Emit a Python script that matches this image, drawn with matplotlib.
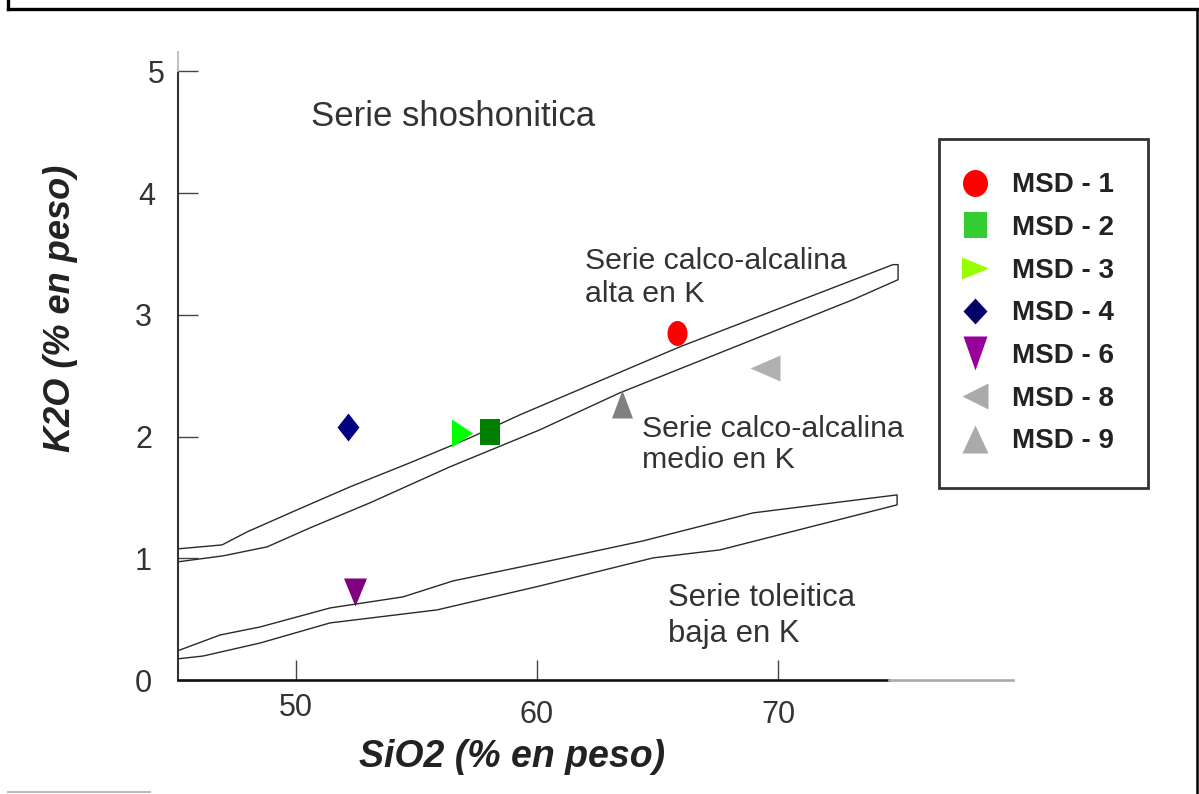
import numpy as np
import matplotlib
matplotlib.use("Agg")
import matplotlib.pyplot as plt
from matplotlib.lines import Line2D

plt.rcParams['font.family'] = ['Liberation Sans', 'DejaVu Sans']

# ---- Boundary curves (SiO2, K2O) ----
# shoshonitic / high-K calc-alkaline boundary band
hk_top_x = [45.06, 46.93, 47.97, 50.04, 52.24, 54.73, 57.22, 59.29, 65.93, 74.77, 74.98]
hk_top_y = [1.077, 1.110, 1.217, 1.398, 1.587, 1.785, 1.990, 2.179, 2.738, 3.413, 3.413]
hk_bot_x = [45.06, 46.97, 48.80, 50.58, 53.07, 56.39, 60.12, 63.44, 73.11, 74.98]
hk_bot_y = [0.970, 1.020, 1.094, 1.250, 1.456, 1.752, 2.056, 2.360, 3.125, 3.289]

# medium-K calc-alkaline / low-K tholeiitic boundary band
lk_top_x = [45.06, 46.85, 48.51, 51.41, 54.44, 56.51, 60.12, 64.40, 68.96, 74.94]
lk_top_y = [0.238, 0.370, 0.436, 0.592, 0.683, 0.814, 0.962, 1.143, 1.373, 1.521]
lk_bot_x = [45.06, 46.14, 48.51, 51.41, 55.85, 60.12, 64.81, 67.59, 74.94]
lk_bot_y = [0.173, 0.197, 0.304, 0.469, 0.576, 0.773, 1.003, 1.069, 1.439]

# ---- Samples ----
samples = ['MSD - 1', 'MSD - 2', 'MSD - 3', 'MSD - 4', 'MSD - 6', 'MSD - 8', 'MSD - 9']
sio2 = [65.80, 58.05, 56.87, 52.16, 52.43, 69.46, 63.51]
k2o = [2.85, 2.04, 2.03, 2.08, 0.72, 2.56, 2.27]
point_colors = ['#ff0000', '#007f00', '#00ff00', '#000080', '#800080', '#b0b0b0', '#808080']
legend_colors = ['#ff0000', '#33cc33', '#99ff00', '#000066', '#990099', '#aaaaaa', '#aaaaaa']
shapes = ['circle', 'square', 'right', 'diamond', 'down', 'left', 'up']
# marker footprints (width, height) in pixels
point_sizes = [(20, 25), (20, 26), (21, 28), (22, 28), (23, 28), (30, 26), (21, 28)]
legend_sizes = [(25, 27), (23, 26), (27, 22), (24, 26), (24, 34), (26, 26), (26, 28)]

xticks = [50, 60, 70]
yticks = [0, 1, 2, 3, 4, 5]

TEXT = '#333333'


def marker_verts(kind, w, h):
    a, b = w / 2.0, h / 2.0
    if kind == 'circle':
        t = np.linspace(0, 2 * np.pi, 60)
        return list(zip(a * np.cos(t), b * np.sin(t)))
    if kind == 'square':
        return [(-a, -b), (a, -b), (a, b), (-a, b), (-a, -b)]
    if kind == 'diamond':
        return [(0, -b), (a, 0), (0, b), (-a, 0), (0, -b)]
    if kind == 'right':
        return [(-a, -b), (a, 0), (-a, b), (-a, -b)]
    if kind == 'left':
        return [(a, -b), (-a, 0), (a, b), (a, -b)]
    if kind == 'up':
        return [(-a, -b), (a, -b), (0, b), (-a, -b)]
    if kind == 'down':
        return [(-a, b), (a, b), (0, -b), (-a, b)]


fig = plt.figure(figsize=(11.99, 7.94), dpi=100)
W, H = 1199.0, 794.0
ax = fig.add_axes([178 / W, 1 - 680 / H, (1013 - 178) / W, (680 - 52) / H])
xmin, xmax = 45.10, 79.75
ymin, ymax = 0.0, 5.16
ax.set_xlim(xmin, xmax)
ax.set_ylim(ymin, ymax)

# boundary bands drawn as outlined strips
band_x = hk_top_x + hk_bot_x[::-1]
band_y = hk_top_y + hk_bot_y[::-1]
ax.plot(band_x, band_y, color='#2a2a2a', lw=1.0, zorder=2)
band_x = lk_top_x + [lk_bot_x[-1]] + lk_bot_x[::-1]
band_y = lk_top_y + [lk_bot_y[-1]] + lk_bot_y[::-1]
ax.plot(band_x, band_y, color='#2a2a2a', lw=1.0, zorder=2)

# sample points
for xi, yi, c, s, (w, h) in zip(sio2, k2o, point_colors, shapes, point_sizes):
    ax.plot([xi], [yi], ls='none', marker=marker_verts(s, w, h),
            markersize=max(w, h) * 0.72, color=c, markeredgewidth=0, zorder=4)

# field labels (multi-line labels anchored on the baseline of their last line)
ax.text(50.62, 4.548, 'Serie shoshonitica', fontsize=25, color=TEXT, va='baseline')
ax.text(61.99, 3.109, 'Serie calco-alcalina\nalta en K', fontsize=21.8,
        color=TEXT, va='baseline', linespacing=1.2)
ax.text(64.36, 1.743, 'Serie calco-alcalina\nmedio en K', fontsize=21.8,
        color=TEXT, va='baseline', linespacing=1.15)
ax.text(65.44, 0.3125, 'Serie toleitica\nbaja en K', fontsize=22.3,
        color=TEXT, va='baseline', linespacing=1.25)

# axes styling
for side in ('top', 'right'):
    ax.spines[side].set_visible(False)
ax.spines['left'].set_color('#333333')
ax.spines['left'].set_linewidth(1.5)
ax.spines['left'].set_bounds(0, 5)
ax.spines['bottom'].set_color('#111111')
ax.spines['bottom'].set_linewidth(1.9)
ax.spines['bottom'].set_bounds(xmin, 74.6)
ax.plot([xmin, xmin], [5, ymax], color='#bbbbbb', lw=1.3, clip_on=False, zorder=3)
ax.plot([74.6, xmax], [0, 0], color='#aaaaaa', lw=1.9, clip_on=False, zorder=3)

ax.set_xticks(xticks)
ax.set_yticks(yticks)
ax.set_xticklabels([str(v) for v in xticks])
ax.set_yticklabels([str(v) for v in yticks])
ax.tick_params(direction='in', length=14.4, width=1.0, color='#444444',
               labelsize=22, labelcolor=TEXT)
ax.tick_params(axis='x', pad=14.4)
ax.tick_params(axis='y', pad=18.7)
xt = ax.xaxis.get_major_ticks()
xt[0].set_pad(9.4)
yt = ax.yaxis.get_major_ticks()
yt[4].set_pad(16.6)
yt[5].set_pad(9.4)

# axis titles
fig.text(60 / W, 1 - 308 / H, 'K2O (% en peso)', rotation=90, ha='center', va='center',
         fontsize=26, fontweight='bold', fontstyle='italic', color='#222222')
fig.text(512 / W, 1 - 757 / H, 'SiO2 (% en peso)', ha='center', va='center',
         fontsize=27, fontweight='bold', fontstyle='italic', color='#222222')

# legend
handles = [Line2D([], [], ls='none', marker=marker_verts(s, w, h), markersize=max(w, h) * 0.72,
                  color=c, markeredgewidth=0)
           for s, (w, h), c in zip(shapes, legend_sizes, legend_colors)]
leg = fig.legend(handles, samples, loc='upper left', bbox_to_anchor=(939 / W, 1 - 139 / H),
                 bbox_transform=fig.transFigure, borderaxespad=0, numpoints=1,
                 frameon=True, fancybox=False, framealpha=1, edgecolor='#333333',
                 prop={'size': 20, 'weight': 'bold'}, labelcolor='#222222',
                 borderpad=1.2, labelspacing=0.6, handlelength=0.2, handletextpad=1.24)
leg.get_frame().set_linewidth(2.0)

# outer frame
for xs, ys, lw, col in [([8, 8], [0, 9], 2.4, 'black'),
                        ([8, 1197], [9, 9], 2.4, 'black'),
                        ([1197, 1197], [9, 794], 1.8, 'black'),
                        ([8, 150], [792, 792], 1.5, '#bbbbbb')]:
    fig.add_artist(Line2D([x / W for x in xs], [1 - y / H for y in ys],
                          transform=fig.transFigure, color=col, lw=lw))

fig.savefig('out.png', dpi=100, facecolor='white')
